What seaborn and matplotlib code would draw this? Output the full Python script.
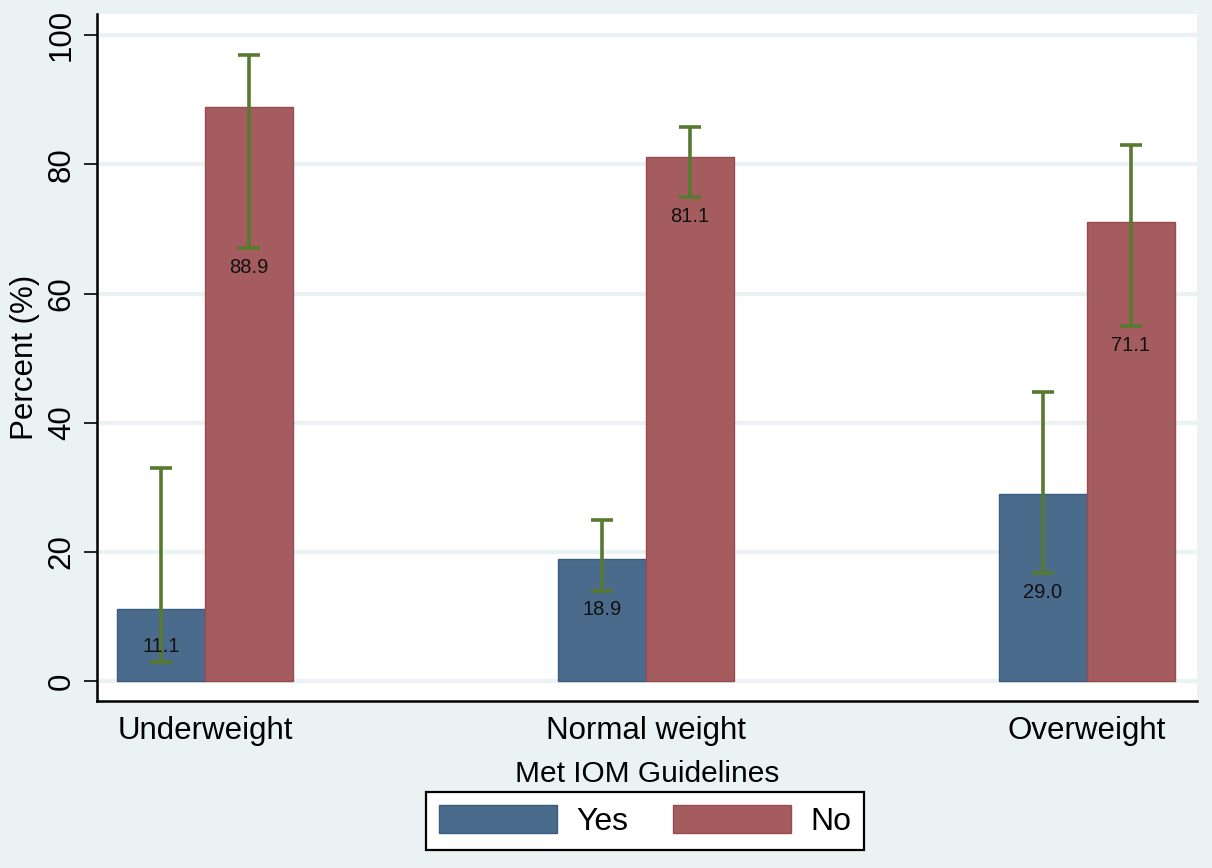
import matplotlib
matplotlib.use("Agg")
import matplotlib.pyplot as plt
from matplotlib.patches import Patch
import seaborn as sns
import pandas as pd

# Data: percentage meeting IOM guidelines by pre-pregnancy BMI group
categories = ["Underweight", "Normal weight", "Overweight"]
groups = ["Yes", "No"]
pct_yes = [11.1, 18.9, 29.0]
pct_no = [88.9, 81.1, 71.1]
ci_low_yes = [3.0, 14.0, 16.7]
ci_high_yes = [33.0, 25.0, 44.7]
ci_low_no = [67.0, 75.0, 55.0]
ci_high_no = [97.0, 85.8, 83.0]
y_ticks = [0, 20, 40, 60, 80, 100]

BG = "#EAF2F3"
COL_YES = "#4A6B8C"
COL_NO = "#A55C5F"
EDGE_YES = "#3A5C7E"
EDGE_NO = "#994C50"
ERR = "#587930"

sns.set_style("white")
plt.rcParams["font.family"] = ["Liberation Sans", "DejaVu Sans"]
plt.rcParams["text.color"] = "black"
plt.rcParams["axes.labelcolor"] = "black"
plt.rcParams["xtick.color"] = "black"
plt.rcParams["ytick.color"] = "black"

df = pd.DataFrame({
    "category": categories * 2,
    "met": ["Yes"] * 3 + ["No"] * 3,
    "pct": pct_yes + pct_no,
})

fig = plt.figure(figsize=(12.12, 8.68), dpi=100, facecolor=BG)
ax = fig.add_axes([0.080, 0.1924, 0.9076, 0.7915])
ax.set_facecolor("white")

sns.barplot(data=df, x="category", y="pct", hue="met", hue_order=groups,
            order=categories, palette=[COL_YES, COL_NO], width=0.4,
            errorbar=None, saturation=1, ax=ax, legend=False, zorder=2)

# edge colours per group
for cont, ec in zip(ax.containers, [EDGE_YES, EDGE_NO]):
    for bar in cont:
        bar.set_edgecolor(ec)
        bar.set_linewidth(1.0)

# confidence intervals and value labels
series = [(pct_yes, ci_low_yes, ci_high_yes), (pct_no, ci_low_no, ci_high_no)]
for cont, (vals, lo, hi) in zip(ax.containers, series):
    for bar, v, l, h in zip(cont, vals, lo, hi):
        xc = bar.get_x() + bar.get_width() / 2
        ax.errorbar([xc], [v], yerr=[[v - l], [h - v]], fmt="none",
                    ecolor=ERR, elinewidth=2.6, capsize=8, capthick=2.6,
                    zorder=3)
        ax.text(xc, max(l - 3.0, 5.3), f"{v:.1f}", ha="center", va="center",
                fontsize=14.5, color="#111111", zorder=4)

ax.set_xlim(-0.245, 2.25)
ax.set_ylim(-3.1, 103.3)
ax.set_yticks(y_ticks)
ax.set_yticklabels([str(t) for t in y_ticks], rotation=90, va="center")
ax.yaxis.grid(True, color=BG, linewidth=3, zorder=0)
ax.set_axisbelow(True)

for side in ["top", "right"]:
    ax.spines[side].set_visible(False)
for side in ["left", "bottom"]:
    ax.spines[side].set_color("black")
    ax.spines[side].set_linewidth(1.8)

ax.tick_params(axis="y", direction="out", length=9.5, width=1.2,
               color="black", labelsize=22.5, pad=5, left=True)
ax.tick_params(axis="x", length=0, labelsize=22.5, pad=11)

ax.set_ylabel("Percent (%)", fontsize=22.5, labelpad=5)
ax.set_xlabel("Met IOM Guidelines", fontsize=21.5, labelpad=10)

handles = [Patch(facecolor=COL_YES, edgecolor=EDGE_YES, label="Yes"),
           Patch(facecolor=COL_NO, edgecolor=EDGE_NO, label="No")]
leg = fig.legend(handles=handles, loc="center", bbox_to_anchor=(0.532, 0.054),
                 ncol=2, fontsize=23, frameon=True, fancybox=False,
                 handlelength=3.7, handleheight=0.95, handletextpad=0.6,
                 columnspacing=1.4, borderpad=0.4, edgecolor="black",
                 framealpha=1)
leg.get_frame().set_linewidth(1.6)

fig.savefig("out.png", dpi=100, facecolor=BG)
